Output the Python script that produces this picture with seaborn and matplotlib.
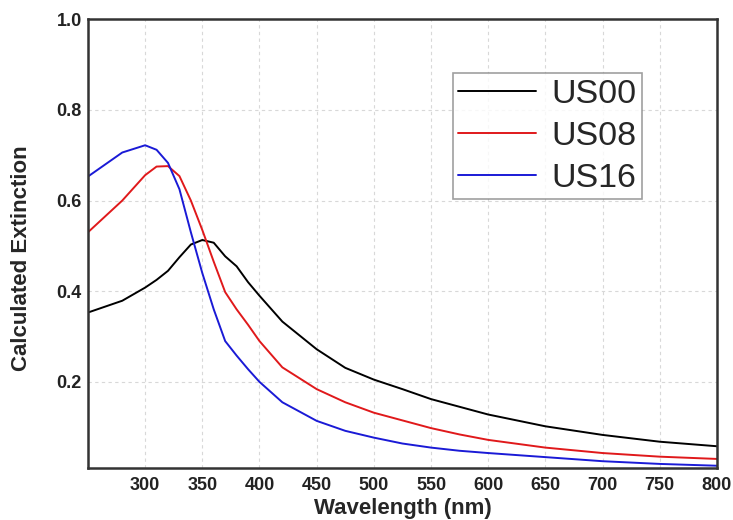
import matplotlib
matplotlib.use("Agg")
import matplotlib.pyplot as plt
import seaborn as sns
import pandas as pd

wavelength = [250, 280, 300, 310, 320, 330, 340, 350, 360, 370, 380, 390, 400,
              420, 450, 475, 500, 525, 550, 575, 600, 650, 700, 750, 800]
us00 = [0.353, 0.379, 0.408, 0.425, 0.445, 0.475, 0.503, 0.513, 0.507, 0.477, 0.455, 0.420, 0.390,
        0.333, 0.272, 0.231, 0.205, 0.184, 0.162, 0.145, 0.128, 0.102, 0.083, 0.068, 0.058]
us08 = [0.530, 0.600, 0.656, 0.675, 0.676, 0.654, 0.600, 0.535, 0.465, 0.398, 0.360, 0.326, 0.290,
        0.232, 0.184, 0.155, 0.132, 0.115, 0.098, 0.084, 0.072, 0.055, 0.043, 0.035, 0.030]
us16 = [0.653, 0.706, 0.722, 0.712, 0.683, 0.625, 0.530, 0.440, 0.360, 0.290, 0.258, 0.228, 0.200,
        0.155, 0.114, 0.092, 0.077, 0.064, 0.055, 0.048, 0.043, 0.034, 0.025, 0.019, 0.015]
series_names = ["US00", "US08", "US16"]
colors = ["#000000", "#e0191b", "#1a1ad6"]
x_ticks = [300, 350, 400, 450, 500, 550, 600, 650, 700, 750, 800]
y_ticks = [0.2, 0.4, 0.6, 0.8, 1.0]

rows = []
for name, vals in zip(series_names, [us00, us08, us16]):
    for w, v in zip(wavelength, vals):
        rows.append({"Wavelength": w, "Extinction": v, "Sample": name})
df = pd.DataFrame(rows)

sns.set_style("white")
plt.rcParams['font.family'] = ['Liberation Sans', 'DejaVu Sans']

fig = plt.figure(figsize=(7.33, 5.2), dpi=100)
ax = fig.add_axes([0.120, 0.100, 0.858, 0.863])

sns.lineplot(data=df, x="Wavelength", y="Extinction", hue="Sample",
             palette=dict(zip(series_names, colors)), linewidth=1.4, ax=ax)

ax.set_xlim(250, 800)
ax.set_ylim(0.01, 1.0)
ax.set_xticks(x_ticks)
ax.set_yticks(y_ticks)
ax.set_xticklabels([str(t) for t in x_ticks], fontsize=13, fontweight='bold', color='#222222')
ax.set_yticklabels([f"{t:.1f}" for t in y_ticks], fontsize=13, fontweight='bold', color='#222222')
ax.tick_params(axis='x', length=0, pad=6.5)
ax.tick_params(axis='y', length=0, pad=4.5)
ax.grid(True, linestyle=(0, (3, 3)), color='#d8d8d8', linewidth=0.8)
for s in ax.spines.values():
    s.set_color('#333333')
    s.set_linewidth(1.8)
    s.set_visible(True)

ax.set_xlabel("Wavelength (nm)", fontsize=16, fontweight='bold', labelpad=3)
ax.set_ylabel("Calculated Extinction", fontsize=16, fontweight='bold')
ax.yaxis.set_label_coords(-0.089, 0.467)

leg = ax.legend(loc='upper left', bbox_to_anchor=(0.580, 0.880), fontsize=24.5,
                frameon=True, fancybox=False, handlelength=2.3, handletextpad=0.45,
                borderpad=0.16, labelspacing=0.33, borderaxespad=0)
leg.get_frame().set_edgecolor('#888888')
leg.get_frame().set_linewidth(1.2)
for line in leg.get_lines():
    line.set_linewidth(1.4)

fig.savefig("out.png", dpi=100)
